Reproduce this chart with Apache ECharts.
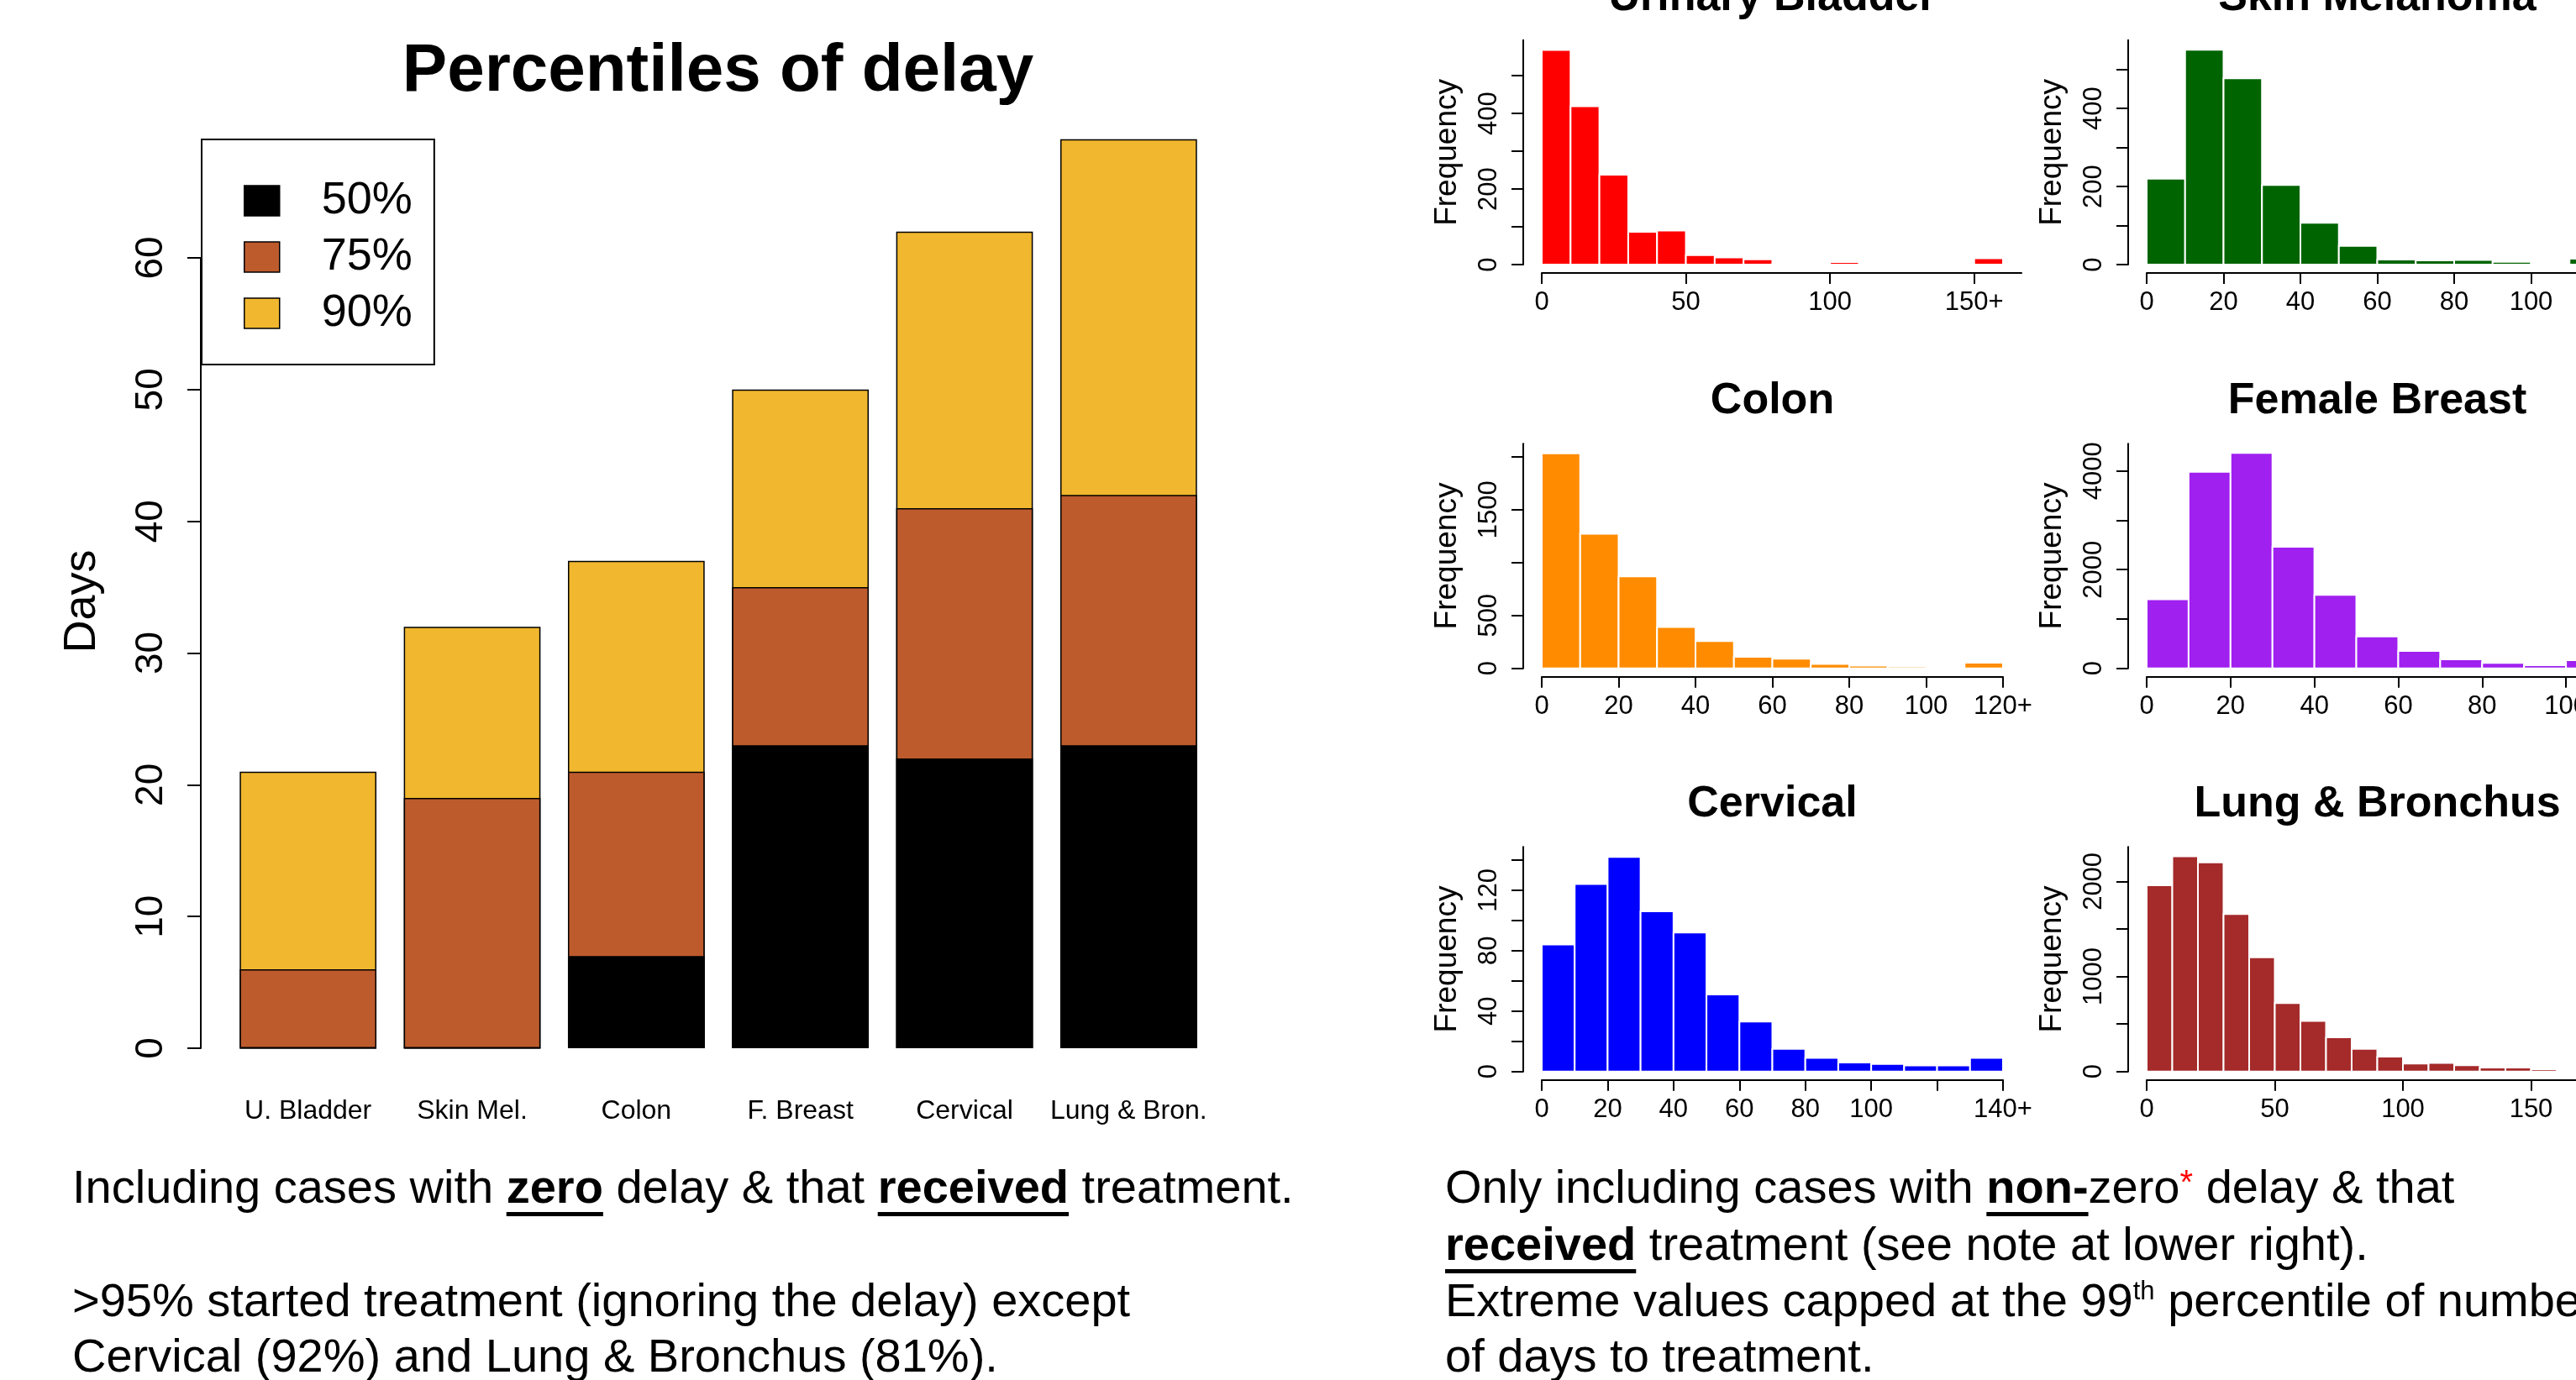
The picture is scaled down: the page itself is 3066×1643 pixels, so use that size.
<!DOCTYPE html>
<html><head><meta charset="utf-8">
<script src="https://cdn.jsdelivr.net/npm/echarts@6/dist/echarts.min.js"></script>
<style>html,body{margin:0;padding:0;background:#fff;overflow:hidden}#c{width:3066px;height:1643px}</style>
</head><body><div id="c"></div>
<script>
// ===== Left chart: percentiles of delay (days) =====
const categories = ['U. Bladder', 'Skin Mel.', 'Colon', 'F. Breast', 'Cervical', 'Lung & Bron.'];
const p50 = [0, 0, 7, 23, 22, 23];
const p75 = [6, 19, 21, 35, 41, 42];
const p90 = [21, 32, 37, 50, 62, 69];
const daysTicks = [0, 10, 20, 30, 40, 50, 60];

// ===== Histograms (bins of 10 days) =====
const binEdges = [0, 10, 20, 30, 40, 50, 60, 70, 80, 90, 100, 110, 120, 130, 140, 150, 160, 170, 180];
const ubCounts = [568, 419, 238, 87, 90, 25, 19, 14, 3, 3, 7, 0, 0, 0, 0, 17];
const smCounts = [220, 550, 477, 204, 107, 48, 13, 11, 12, 7, 3, 15];
const colonCounts = [2034, 1272, 870, 391, 257, 108, 90, 42, 26, 18, 0, 53];
const breastCounts = [1401, 3983, 4363, 2462, 1487, 647, 352, 182, 108, 62, 165];
const cervicalCounts = [84, 124, 142, 106, 92, 51, 33, 15, 9, 6, 5, 4, 4, 9];
const lungCounts = [1959, 2263, 2201, 1656, 1202, 719, 533, 359, 239, 156, 83, 91, 65, 41, 41, 24, 12];

// tick positions and tick labels
const ubXTicks = [0, 50, 100, 150];
const ubXLabels = ['0', '50', '100', '150+'];
const ubYTicks = [0, 100, 200, 300, 400, 500];
const ubYLabels = [0, 200, 400];
const smXTicks = [0, 20, 40, 60, 80, 100];
const smXLabels = ['0', '20', '40', '60', '80', '100'];
const smYTicks = [0, 100, 200, 300, 400, 500];
const smYLabels = [0, 200, 400];
const colonXTicks = [0, 20, 40, 60, 80, 100, 120];
const colonXLabels = ['0', '20', '40', '60', '80', '100', '120+'];
const colonYTicks = [0, 500, 1000, 1500, 2000];
const colonYLabels = [0, 500, 1500];
const breastXTicks = [0, 20, 40, 60, 80, 100];
const breastXLabels = ['0', '20', '40', '60', '80', '100'];
const breastYTicks = [0, 1000, 2000, 3000, 4000];
const breastYLabels = [0, 2000, 4000];
const cervXTicks = [0, 20, 40, 60, 80, 100, 120, 140];
const cervXLabelVals = [0, 20, 40, 60, 80, 100, 140];
const cervXLabels = ['0', '20', '40', '60', '80', '100', '140+'];
const cervYTicks = [0, 20, 40, 60, 80, 100, 120, 140];
const cervYLabels = [0, 40, 80, 120];
const lungXTicks = [0, 50, 100, 150];
const lungXLabels = ['0', '50', '100', '150'];
const lungYTicks = [0, 500, 1000, 1500, 2000];
const lungYLabels = [0, 1000, 2000];

const FONT = '"Liberation Sans", Arial, Helvetica, sans-serif';

const panels = [
  {title: 'Urinary Bladder', color: '#FF0000', counts: ubCounts, col: 0, row: 0, xMax: 166.4, w: 571, yMax: 594,
   xTicks: ubXTicks, xLabVals: ubXTicks, xLabs: ubXLabels, yTicks: ubYTicks, yLabs: ubYLabels},
  {title: 'Skin Melanoma', color: '#006400', counts: smCounts, col: 1, row: 0, xMax: 120, w: 549, yMax: 575,
   xTicks: smXTicks, xLabVals: smXTicks, xLabs: smXLabels, yTicks: smYTicks, yLabs: smYLabels},
  {title: 'Colon', color: '#FF8C00', counts: colonCounts, col: 0, row: 1, xMax: 120, w: 549, yMax: 2124,
   xTicks: colonXTicks, xLabVals: colonXTicks, xLabs: colonXLabels, yTicks: colonYTicks, yLabs: colonYLabels},
  {title: 'Female Breast', color: '#A020F0', counts: breastCounts, col: 1, row: 1, xMax: 110, w: 549, yMax: 4551,
   xTicks: breastXTicks, xLabVals: breastXTicks, xLabs: breastXLabels, yTicks: breastYTicks, yLabs: breastYLabels},
  {title: 'Cervical', color: '#0000FF', counts: cervicalCounts, col: 0, row: 2, xMax: 140, w: 549, yMax: 148.6,
   xTicks: cervXTicks, xLabVals: cervXLabelVals, xLabs: cervXLabels, yTicks: cervYTicks, yLabs: cervYLabels},
  {title: 'Lung & Bronchus', color: '#A52A2A', counts: lungCounts, col: 1, row: 2, xMax: 180, w: 549, yMax: 2363,
   xTicks: lungXTicks, xLabVals: lungXTicks, xLabs: lungXLabels, yTicks: lungYTicks, yLabs: lungYLabels}
];

const colLeft = [1835, 2555];
const colTitleX = [2109.5, 2829.5];
const rowTop = [47.7, 528.3, 1008.3];
const rowTitleY = [-2.5, 478, 958];
const gridH = 267.4;

const grids = [], xAxes = [], yAxes = [], series = [], graphics = [];

// ---- left chart ----
grids.push({left: 269, top: 307, width: 1172, height: 941, containLabel: false, outerBoundsMode: 'none'});
xAxes.push({type: 'category', gridIndex: 0, data: categories,
  axisLine: {show: false}, axisTick: {show: false}, splitLine: {show: false},
  axisLabel: {interval: 0, margin: 59, fontSize: 32, color: '#000', fontFamily: FONT}});
yAxes.push({type: 'value', gridIndex: 0, min: 0, max: 60, interval: 10, offset: 30,
  axisLine: {show: true, onZero: false, lineStyle: {color: '#000', width: 2}},
  axisTick: {show: true, length: 16, lineStyle: {color: '#000', width: 2}, customValues: daysTicks},
  axisLabel: {rotate: 90, margin: 36, fontSize: 46, color: '#000', fontFamily: FONT, customValues: daysTicks,
    formatter: v => String(v)},
  splitLine: {show: false}});
const barColors = {'50%': '#000000', '75%': '#BD5B2D', '90%': '#F0B72F'};
[['90%', p90], ['75%', p75], ['50%', p50]].forEach(([name, vals]) => {
  series.push({type: 'bar', name: name, xAxisIndex: 0, yAxisIndex: 0, data: vals,
    barWidth: '83.3%', barGap: '-100%', clip: false, silent: true,
    itemStyle: {color: barColors[name], borderColor: '#000', borderWidth: 1.5}});
});

// ---- histograms ----
panels.forEach((p, idx) => {
  const gi = idx + 1;
  grids.push({left: colLeft[p.col], top: rowTop[p.row], width: p.w, height: gridH, containLabel: false, outerBoundsMode: 'none'});
  const labMap = {};
  p.xLabVals.forEach((v, k) => { labMap[v] = p.xLabs[k]; });
  xAxes.push({type: 'value', gridIndex: gi, min: 0, max: p.xMax, offset: 10,
    axisLine: {show: true, onZero: false, lineStyle: {color: '#000', width: 2}},
    axisTick: {show: true, length: 13, lineStyle: {color: '#000', width: 2}, customValues: p.xTicks},
    axisLabel: {customValues: p.xLabVals, formatter: v => labMap[v] !== undefined ? labMap[v] : '',
      margin: 20, fontSize: 31, color: '#000', fontFamily: FONT},
    splitLine: {show: false}});
  yAxes.push({type: 'value', gridIndex: gi, min: 0, max: p.yMax, offset: 22,
    axisLine: {show: true, onZero: false, lineStyle: {color: '#000', width: 2}},
    axisTick: {show: true, length: 14, lineStyle: {color: '#000', width: 2}, customValues: p.yTicks},
    axisLabel: {rotate: 90, customValues: p.yLabs, formatter: v => String(v),
      margin: 25, fontSize: 31, color: '#000', fontFamily: FONT},
    splitLine: {show: false},
    name: 'Frequency', nameLocation: 'middle', nameRotate: 90, nameGap: 72,
    nameTextStyle: {fontSize: 37, color: '#000', fontFamily: FONT}});
  const data = p.counts.map((c, k) => [binEdges[k], binEdges[k + 1], c]);
  const color = p.color;
  series.push({type: 'custom', xAxisIndex: gi, yAxisIndex: gi, data: data, silent: true,
    encode: {x: [0, 1], y: 2},
    renderItem: (params, api) => {
      const a = api.coord([api.value(0), api.value(2)]);
      const b = api.coord([api.value(1), 0]);
      return {type: 'rect', shape: {x: a[0], y: a[1], width: b[0] - a[0], height: b[1] - a[1]},
        style: {fill: color, stroke: '#ffffff', lineWidth: 2}};
    }});
  graphics.push({type: 'text', x: colTitleX[p.col], y: rowTitleY[p.row],
    style: {text: p.title, font: 'bold 52px ' + FONT, fill: '#000', align: 'center', verticalAlign: 'middle',
      textAlign: 'center', textVerticalAlign: 'middle'}});
});

// ---- titles / free text ----
graphics.push({type: 'text', x: 854.5, y: 85.5,
  style: {text: 'Percentiles of delay', font: 'bold 80px ' + FONT, fill: '#000', align: 'center', verticalAlign: 'middle',
    textAlign: 'center', textVerticalAlign: 'middle'}});
graphics.push({type: 'text', x: 98, y: 716, rotation: Math.PI / 2,
  style: {text: 'Days', font: '54px ' + FONT, fill: '#000', align: 'center', verticalAlign: 'middle',
    textAlign: 'center', textVerticalAlign: 'middle'}});

const mctx = document.createElement('canvas').getContext('2d');
function fstr(bold, size) { return (bold ? 'bold ' : '') + size + 'px ' + FONT; }
function lineElems(x0, base, segs) {
  let x = x0;
  segs.forEach(s => {
    const size = s.size || 56, raise = s.raise || 0;
    const f = fstr(!!s.b, size);
    mctx.font = f;
    const w = mctx.measureText(s.t).width;
    graphics.push({type: 'text', x: x, y: base - raise - 0.3465 * size,
      style: {text: s.t, font: f, fill: s.color || '#000', align: 'left', verticalAlign: 'middle',
        textAlign: 'left', textVerticalAlign: 'middle'}});
    if (s.u) graphics.push({type: 'rect', shape: {x: x, y: base + 7, width: w, height: 5}, style: {fill: '#000'}});
    x += w;
  });
}
lineElems(86, 1436, [{t: 'Including cases with '}, {t: 'zero', b: 1, u: 1}, {t: ' delay & that '},
  {t: 'received', b: 1, u: 1}, {t: ' treatment.'}]);
lineElems(86, 1571, [{t: '>95% started treatment (ignoring the delay) except'}]);
lineElems(86, 1637, [{t: 'Cervical (92%) and Lung & Bronchus (81%).'}]);
lineElems(1720, 1436, [{t: 'Only including cases with '}, {t: 'non-', b: 1, u: 1}, {t: 'zero'},
  {t: '*', size: 40, raise: 12, color: '#FF0000'}, {t: ' delay & that'}]);
lineElems(1720, 1504, [{t: 'received', b: 1, u: 1}, {t: ' treatment (see note at lower right).'}]);
lineElems(1720, 1571, [{t: 'Extreme values capped at the 99'}, {t: 'th', size: 31, raise: 22},
  {t: ' percentile of number'}]);
lineElems(1720, 1637, [{t: 'of days to treatment.'}]);

const chart = echarts.init(document.getElementById('c'), null, {renderer: 'canvas'});
chart.setOption({
  animation: false,
  backgroundColor: '#ffffff',
  textStyle: {fontFamily: FONT},
  legend: {data: ['50%', '75%', '90%'], orient: 'vertical', left: 240, top: 166,
    padding: [46, 26, 34, 50], itemWidth: 42, itemHeight: 36, itemGap: 13, icon: 'rect',
    borderColor: '#000', borderWidth: 2, selectedMode: false,
    itemStyle: {borderColor: '#000', borderWidth: 1.5},
    textStyle: {fontSize: 54, lineHeight: 54, color: '#000', fontFamily: FONT, padding: [0, 0, 0, 45]}},
  grid: grids, xAxis: xAxes, yAxis: yAxes, series: series,
  graphic: {elements: graphics}
});
</script>
</body></html>
